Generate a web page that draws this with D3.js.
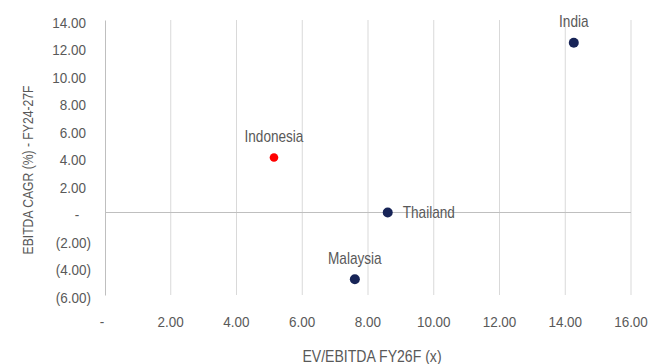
<!DOCTYPE html>
<meta charset="utf-8">
<style>
body { margin: 0; background: #fff; }
svg text {
  font-family: 'Liberation Sans', Arial, sans-serif;
  fill: #595959;
}
.tick text { font-size: 15px; }
.label { font-size: 16px; }
</style>
<svg width="663" height="364"></svg>
<script src="https://cdn.jsdelivr.net/npm/d3@7"></script>
<script>

// markets plotted
var countries = ["India", "Indonesia", "Thailand", "Malaysia"];
var evEbitda = [14.26, 5.14, 8.6, 7.6];       // EV/EBITDA FY26F (x)
var cagr = [12.35, 4.0, 0.0, -4.85];          // EBITDA CAGR FY24-27F (%)
var dotColors = ["#172457", "#ff0000", "#172457", "#172457"];
var labelPos = ["top", "top", "right", "top"];

var xTicks = [0, 2, 4, 6, 8, 10, 12, 14, 16];
var yTicks = [14, 12, 10, 8, 6, 4, 2, 0, -2, -4, -6];

var svg = d3.select("svg"),
    margin = {top: 20, right: 32, bottom: 69, left: 105},
    width = +svg.attr("width") - margin.left - margin.right,
    height = +svg.attr("height") - margin.top - margin.bottom,
    g = svg.append("g").attr("transform", "translate(" + margin.left + "," + margin.top + ")");

var x = d3.scaleLinear().domain([0, 16]).range([0, width]);
var y = d3.scaleLinear().domain([-6, 14]).range([height, 0]);

// excel accounting style numbers
function acct(v) {
  if (v === 0) return "-";
  var s = d3.format(".2f")(Math.abs(v));
  return v < 0 ? "(" + s + ")" : s;
}

// the original font is a narrow one, squeeze regular sans sideways
function squeeze(sel, k) {
  sel.each(function() {
    var t = d3.select(this);
    var tx = +t.attr("x") || 0;
    t.attr("x", 0).attr("transform", "translate(" + tx + ",0) scale(" + k + ",1)");
  });
}

// vertical gridlines
g.selectAll(".grid")
  .data(xTicks.slice(1))
  .enter().append("line")
    .attr("x1", function(d) { return x(d); })
    .attr("x2", function(d) { return x(d); })
    .attr("y1", 0)
    .attr("y2", height)
    .attr("stroke", "#d9d9d9")
    .attr("stroke-width", 1);

// y axis
var yAxis = g.append("g")
    .call(d3.axisLeft(y).tickValues(yTicks).tickSize(0).tickFormat(acct));
yAxis.select(".domain").attr("stroke", "#bfbfbf");
yAxis.selectAll(".tick text")
    .attr("x", function(d) { return d > 0 ? -19 : (d === 0 ? -28 : -14); })
    .attr("dy", null)
    .attr("y", 7)
    .attr("text-anchor", function(d) { return d === 0 ? "middle" : "end"; })
    .call(squeeze, 0.9);

// x axis, labels at the bottom
var xAxis = g.append("g")
    .attr("transform", "translate(0," + height + ")")
    .call(d3.axisBottom(x).tickValues(xTicks).tickSize(0).tickFormat(acct));
xAxis.select(".domain").remove();
xAxis.selectAll(".tick text")
    .attr("dy", null)
    .attr("y", 32)
    .attr("x", function(d) { return d === 0 ? -3.6 : -0.5; })
    .call(squeeze, 0.9);

// zero line
g.append("line")
    .attr("x1", 0)
    .attr("x2", width)
    .attr("y1", y(0))
    .attr("y2", y(0))
    .attr("stroke", "#bfbfbf");

var pts = countries.map(function(c, i) {
  return {name: c, x: evEbitda[i], y: cagr[i], color: dotColors[i], pos: labelPos[i]};
});

g.selectAll(".dot")
  .data(pts)
  .enter().append("circle")
    .attr("cx", function(d) { return x(d.x); })
    .attr("cy", function(d) { return y(d.y); })
    .attr("r", function(d) { return d.color === "#ff0000" ? 4.3 : 5; })
    .attr("fill", function(d) { return d.color; });

g.selectAll(".label")
  .data(pts)
  .enter().append("text")
    .attr("class", "label")
    .attr("transform", function(d) {
      var lx = d.pos === "right" ? x(d.x) + 15 : x(d.x);
      var ly = d.pos === "right" ? y(d.y) + 5.5 : y(d.y) - 15.5;
      return "translate(" + lx + "," + ly + ") scale(0.85,1)";
    })
    .attr("text-anchor", function(d) { return d.pos === "right" ? "start" : "middle"; })
    .text(function(d) { return d.name; });

svg.append("text")
    .attr("text-anchor", "middle")
    .style("font-size", "16px")
    .attr("transform", "translate(372,361.5) scale(0.88,1)")
    .text("EV/EBITDA FY26F (x)");

svg.append("text")
    .attr("text-anchor", "middle")
    .style("font-size", "15.4px")
    .attr("transform", "translate(32.5,170) rotate(-90) scale(0.79,1)")
    .text("EBITDA CAGR (%) - FY24-27F");

</script>
